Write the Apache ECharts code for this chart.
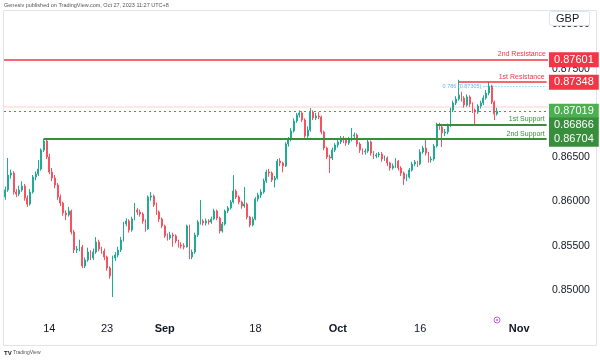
<!DOCTYPE html>
<html><head><meta charset="utf-8">
<script src="https://cdn.jsdelivr.net/npm/echarts@6/dist/echarts.min.js"></script>
<style>html,body{margin:0;padding:0;background:#fff}#c{width:600px;height:360px}</style>
</head><body><div id="c"></div>
<script>
// ---- data ----
const tradingDays = ['Aug 7','Aug 8','Aug 9','Aug 10','Aug 11','Aug 14','Aug 15','Aug 16','Aug 17','Aug 18',
 'Aug 21','Aug 22','Aug 23','Aug 24','Aug 25','Aug 28','Aug 29','Aug 30','Aug 31','Sep 1',
 'Sep 4','Sep 5','Sep 6','Sep 7','Sep 8','Sep 11','Sep 12','Sep 13','Sep 14','Sep 15',
 'Sep 18','Sep 19','Sep 20','Sep 21','Sep 22','Sep 25','Sep 26','Sep 27','Sep 28','Sep 29',
 'Oct 2','Oct 3','Oct 4','Oct 5','Oct 6','Oct 9','Oct 10','Oct 11','Oct 12','Oct 13',
 'Oct 16','Oct 17','Oct 18','Oct 19','Oct 20','Oct 23','Oct 24','Oct 25','Oct 26','Oct 27',
 'Oct 30','Oct 31','Nov 1','Nov 2','Nov 3','Nov 6'];
const sessions = ['00:00','08:00','16:00'];
const tickLabels = {'Aug 14':'14','Aug 23':'23','Sep 1':'Sep','Sep 18':'18','Oct 2':'Oct','Oct 16':'16','Nov 1':'Nov'};
const monthLabels = ['Sep','Oct','Nov'];

// candles: [open, close, low, high]  (EUR/GBP, 8h bars)
const candles = [
[0.86052,0.86131,0.86020,0.86170],[0.86131,0.86300,0.86110,0.86492],[0.86300,0.86323,0.86260,0.86360],
[0.86323,0.86108,0.86080,0.86345],[0.86108,0.86086,0.86050,0.86140],[0.86086,0.86131,0.86060,0.86180],
[0.86131,0.86176,0.86110,0.86230],[0.86176,0.86041,0.86010,0.86200],[0.86041,0.85973,0.85940,0.86070],
[0.85973,0.86108,0.85955,0.86140],[0.86108,0.86278,0.86090,0.86300],[0.86278,0.86311,0.86240,0.86340],
[0.86311,0.86368,0.86290,0.86470],[0.86368,0.86582,0.86350,0.86600],[0.86582,0.86684,0.86560,0.86712],
[0.86684,0.86503,0.86480,0.86700],[0.86503,0.86334,0.86310,0.86540],[0.86334,0.86266,0.86230,0.86380],
[0.86266,0.86187,0.86150,0.86300],[0.86187,0.86052,0.86020,0.86210],[0.86052,0.85984,0.85950,0.86080],
[0.85984,0.85871,0.85840,0.86000],[0.85871,0.85849,0.85790,0.85900],[0.85849,0.85894,0.85830,0.85940],
[0.85894,0.85657,0.85630,0.85910],[0.85657,0.85454,0.85420,0.85680],[0.85454,0.85465,0.85420,0.85500],
[0.85465,0.85488,0.85440,0.85570],[0.85488,0.85273,0.85250,0.85510],[0.85273,0.85341,0.85250,0.85370],
[0.85341,0.85431,0.85320,0.85480],[0.85431,0.85363,0.85340,0.85450],[0.85363,0.85431,0.85340,0.85470],
[0.85431,0.85544,0.85410,0.85600],[0.85544,0.85465,0.85440,0.85570],[0.85465,0.85442,0.85410,0.85490],
[0.85442,0.85375,0.85340,0.85470],[0.85375,0.85251,0.85220,0.85390],[0.85251,0.85160,0.85130,0.85270],
[0.85160,0.85363,0.84923,0.85390],[0.85363,0.85397,0.85330,0.85430],[0.85397,0.85454,0.85370,0.85490],
[0.85454,0.85567,0.85430,0.85600],[0.85567,0.85747,0.85550,0.85770],[0.85747,0.85781,0.85720,0.85810],
[0.85781,0.85679,0.85650,0.85800],[0.85679,0.85804,0.85660,0.85830],[0.85804,0.85905,0.85790,0.85984],
[0.85905,0.85883,0.85850,0.85930],[0.85883,0.85860,0.85830,0.85910],[0.85860,0.85781,0.85750,0.85880],
[0.85781,0.85691,0.85660,0.85800],[0.85691,0.86052,0.85680,0.86070],[0.86052,0.86063,0.86010,0.86108],
[0.86063,0.85962,0.85940,0.86080],[0.85962,0.85883,0.85850,0.85990],[0.85883,0.85804,0.85770,0.85900],
[0.85804,0.85725,0.85700,0.85820],[0.85725,0.85612,0.85590,0.85740],[0.85612,0.85589,0.85560,0.85640],
[0.85589,0.85623,0.85570,0.85660],[0.85623,0.85612,0.85490,0.85650],[0.85612,0.85555,0.85530,0.85630],
[0.85555,0.85510,0.85480,0.85570],[0.85510,0.85499,0.85470,0.85540],[0.85499,0.85488,0.85460,0.85530],
[0.85488,0.85725,0.85480,0.85740],[0.85725,0.85375,0.85350,0.85740],[0.85375,0.85431,0.85350,0.85460],
[0.85431,0.85623,0.85410,0.85650],[0.85623,0.85770,0.85600,0.85790],[0.85770,0.85781,0.85740,0.86018],
[0.85781,0.85758,0.85730,0.85800],[0.85758,0.85781,0.85730,0.85810],[0.85781,0.85770,0.85740,0.85800],
[0.85770,0.85804,0.85750,0.85830],[0.85804,0.85894,0.85790,0.85920],[0.85894,0.85815,0.85790,0.85910],
[0.85815,0.85668,0.85640,0.85830],[0.85668,0.85747,0.85650,0.85770],[0.85747,0.85894,0.85730,0.85910],
[0.85894,0.85928,0.85870,0.85950],[0.85928,0.85995,0.85910,0.86020],[0.85995,0.86120,0.85980,0.86300],
[0.86120,0.86052,0.86030,0.86140],[0.86052,0.85995,0.85970,0.86070],[0.85995,0.85950,0.85920,0.86010],
[0.85950,0.85973,0.85930,0.86165],[0.85973,0.85826,0.85800,0.85990],[0.85826,0.85736,0.85710,0.85840],
[0.85736,0.85804,0.85720,0.85830],[0.85804,0.86029,0.85790,0.86050],[0.86029,0.86074,0.86000,0.86100],
[0.86074,0.86108,0.86040,0.86140],[0.86108,0.86232,0.86090,0.86260],[0.86232,0.86334,0.86210,0.86360],
[0.86334,0.86323,0.86280,0.86370],[0.86323,0.86244,0.86220,0.86340],[0.86244,0.86266,0.86160,0.86290],
[0.86266,0.86458,0.86250,0.86480],[0.86458,0.86436,0.86400,0.86490],[0.86436,0.86402,0.86330,0.86450],
[0.86402,0.86650,0.86390,0.86670],[0.86650,0.86707,0.86620,0.86730],[0.86707,0.86797,0.86680,0.86830],
[0.86797,0.86910,0.86780,0.86940],[0.86910,0.86977,0.86890,0.87000],[0.86977,0.87000,0.86950,0.87030],
[0.87000,0.86921,0.86900,0.87020],[0.86921,0.86740,0.86720,0.86940],[0.86740,0.86808,0.86720,0.86850],
[0.86808,0.87011,0.86790,0.87056],[0.87011,0.86944,0.86920,0.87030],[0.86944,0.86966,0.86920,0.87000],
[0.86966,0.86955,0.86930,0.87010],[0.86955,0.86786,0.86760,0.86970],[0.86786,0.86605,0.86580,0.86800],
[0.86605,0.86503,0.86480,0.86620],[0.86503,0.86492,0.86323,0.86530],[0.86492,0.86582,0.86470,0.86610],
[0.86582,0.86639,0.86560,0.86660],[0.86639,0.86673,0.86610,0.86700],[0.86673,0.86718,0.86650,0.86740],
[0.86718,0.86695,0.86660,0.86740],[0.86695,0.86661,0.86630,0.86720],[0.86661,0.86707,0.86640,0.86730],
[0.86707,0.86740,0.86680,0.86831],[0.86740,0.86752,0.86710,0.86780],[0.86752,0.86650,0.86620,0.86770],
[0.86650,0.86582,0.86550,0.86670],[0.86582,0.86560,0.86530,0.86600],[0.86560,0.86571,0.86530,0.86600],
[0.86571,0.86673,0.86550,0.86700],[0.86673,0.86549,0.86520,0.86690],[0.86549,0.86515,0.86480,0.86570],
[0.86515,0.86526,0.86490,0.86550],[0.86526,0.86537,0.86500,0.86560],[0.86537,0.86481,0.86450,0.86560],
[0.86481,0.86492,0.86460,0.86520],[0.86492,0.86436,0.86400,0.86510],[0.86436,0.86379,0.86350,0.86450],
[0.86379,0.86402,0.86360,0.86430],[0.86402,0.86458,0.86380,0.86490],[0.86458,0.86379,0.86350,0.86470],
[0.86379,0.86323,0.86290,0.86400],[0.86323,0.86255,0.86187,0.86340],[0.86255,0.86278,0.86230,0.86310],
[0.86278,0.86357,0.86260,0.86380],[0.86357,0.86424,0.86340,0.86450],[0.86424,0.86447,0.86400,0.86470],
[0.86447,0.86424,0.86390,0.86460],[0.86424,0.86560,0.86410,0.86590],[0.86560,0.86605,0.86540,0.86630],
[0.86605,0.86549,0.86520,0.86695],[0.86549,0.86470,0.86440,0.86560],[0.86470,0.86481,0.86440,0.86510],
[0.86481,0.86628,0.86460,0.86650],[0.86628,0.86876,0.86610,0.86890],[0.86876,0.86842,0.86810,0.86890],
[0.86842,0.86774,0.86616,0.86860],[0.86774,0.86786,0.86740,0.86820],[0.86786,0.86853,0.86760,0.86880],
[0.86853,0.87034,0.86840,0.87060],[0.87034,0.87113,0.87010,0.87140],[0.87113,0.87158,0.87090,0.87190],
[0.87158,0.87203,0.87140,0.87375],[0.87203,0.87169,0.87130,0.87240],[0.87169,0.87090,0.87060,0.87190],
[0.87090,0.87181,0.87070,0.87210],[0.87181,0.87102,0.87070,0.87200],[0.87102,0.87034,0.87000,0.87120],
[0.87034,0.87011,0.86860,0.87050],[0.87011,0.87079,0.86990,0.87100],[0.87079,0.87113,0.87050,0.87140],
[0.87113,0.87169,0.87090,0.87200],[0.87169,0.87226,0.87150,0.87260],[0.87226,0.87305,0.87200,0.87352],
[0.87305,0.87124,0.87100,0.87320],[0.87124,0.86989,0.86921,0.87140],[0.86989,0.87019,0.86970,0.87060]
];

const resistanceNames = ['1st Resistance','2nd Resistance'];
const resistanceLevels = [0.87348, 0.87601];
const supportNames = ['1st Support','2nd Support'];
const supportLevels = [0.86866, 0.86704];
const lastPrice = 0.87019;
const fibText = '0.786 (0.87305)';
const fibLevel = 0.87305;
const prevLevel = 0.87068;
// candle index where each drawn line starts
const res1StartIdx = 165, sup1StartIdx = 157, sup2StartIdx = 14, fibStartIdx = 174;

// ---- chart ----
const categories = [];
tradingDays.forEach(d => sessions.forEach(s => categories.push(d + ' ' + s)));
const lastCat = categories[categories.length - 1];
const dayOf = v => v.slice(0, v.lastIndexOf(' '));

const RED = '#f23645', DGREEN = '#388e3c', LGREEN = '#4caf50', BLUE = '#64b5f6';
const UP = '#22ab94', DOWN = '#f7525f';
const FONT = 'Liberation Sans, Arial, sans-serif';

function boxLabel(color, v) {
  return {show: true, position: 'end', distance: 1, formatter: v.toFixed(5),
    color: '#fff', backgroundColor: color, padding: [2, 5, 1, 5], fontSize: 11,
    lineHeight: 12, fontFamily: FONT};
}
function textLabel(color, t) {
  return {show: true, position: 'insideEndTop', distance: 2, formatter: t,
    color: color, fontSize: 7, fontFamily: FONT};
}
const hidden = {color: 'rgba(0,0,0,0)', width: 1, type: 'solid'};

const chart = echarts.init(document.getElementById('c'), null, {renderer: 'canvas'});
chart.setOption({
  animation: false,
  backgroundColor: '#fff',
  grid: {left: 4, right: 52, top: 10, bottom: 42, containLabel: false},
  xAxis: {
    type: 'category', data: categories, boundaryGap: true,
    axisLine: {show: false}, axisTick: {show: false}, splitLine: {show: false},
    axisLabel: {
      margin: 5, fontSize: 11, color: '#131722', fontFamily: FONT, hideOverlap: false,
      interval: (i, v) => v.endsWith(sessions[1]) && tickLabels[dayOf(v)] !== undefined,
      formatter: v => { const t = tickLabels[dayOf(v)]; return monthLabels.includes(t) ? '{b|' + t + '}' : t; },
      rich: {b: {fontWeight: 'bold', fontSize: 11, color: '#131722', fontFamily: FONT}}
    }
  },
  yAxis: {
    type: 'value', position: 'right', min: 0.84686, max: 0.88163, splitNumber: 7,
    axisLine: {show: false}, axisTick: {show: false}, splitLine: {show: false},
    axisLabel: {margin: 4, fontSize: 10.5, color: '#131722', fontFamily: FONT,
      showMinLabel: false, showMaxLabel: false, formatter: v => v.toFixed(5)}
  },
  series: [{
    type: 'candlestick', data: candles,
    itemStyle: {color: UP, color0: DOWN, borderColor: UP, borderColor0: DOWN, borderWidth: 1},
    markLine: {
      silent: true, symbol: ['none', 'none'], animation: false, precision: 5,
      data: [
        {yAxis: prevLevel, lineStyle: {color: 'rgba(242,54,69,0.12)', width: 2, type: 'solid'}, label: {show: false}},
        {yAxis: resistanceLevels[1], lineStyle: {color: RED, width: 1.5, type: 'solid'}, label: boxLabel(RED, resistanceLevels[1])},
        {yAxis: resistanceLevels[1], lineStyle: hidden, label: textLabel(RED, resistanceNames[1])},
        {yAxis: lastPrice, lineStyle: {color: '#43a047', width: 1, type: [2, 3]}, label: boxLabel(LGREEN, lastPrice)},
        {yAxis: resistanceLevels[0], lineStyle: hidden, label: boxLabel(RED, resistanceLevels[0])},
        {yAxis: supportLevels[0], lineStyle: hidden, label: boxLabel(DGREEN, supportLevels[0])},
        {yAxis: supportLevels[1], lineStyle: hidden, label: boxLabel(DGREEN, supportLevels[1])},
        [{coord: [categories[res1StartIdx], resistanceLevels[0]], lineStyle: {color: RED, width: 1.5, type: 'solid'}, label: textLabel(RED, resistanceNames[0])},
         {coord: [lastCat, resistanceLevels[0]]}],
        [{coord: [categories[sup1StartIdx], supportLevels[0]], lineStyle: {color: DGREEN, width: 1.8, type: 'solid'}, label: textLabel(DGREEN, supportNames[0])},
         {coord: [lastCat, supportLevels[0]]}],
        [{coord: [categories[sup2StartIdx], supportLevels[1]], lineStyle: {color: DGREEN, width: 1.8, type: 'solid'}, label: textLabel(DGREEN, supportNames[1])},
         {coord: [lastCat, supportLevels[1]]}],
        [{coord: [categories[fibStartIdx], fibLevel], lineStyle: {color: BLUE, width: 1, type: [1, 2]},
          label: {show: true, position: 'start', distance: 2, formatter: fibText, color: BLUE, fontSize: 5.5, fontFamily: FONT}},
         {coord: [lastCat, fibLevel]}]
      ]
    }
  }],
  graphic: [
    {type: 'rect', z: 1, silent: true, shape: {x: 3.5, y: 10.5, width: 593, height: 335},
      style: {fill: 'none', stroke: '#e0e3eb', lineWidth: 1}},
    {type: 'text', left: 4, top: 2, silent: true,
      style: {text: 'Genesiv published on TradingView.com, Oct 27, 2023 11:27 UTC+8', fontSize: 5.5, fill: '#555', fontFamily: FONT}},
    {type: 'rect', z: 100, silent: true, shape: {x: 549.5, y: 11.5, width: 40, height: 14, r: 2},
      style: {fill: '#fff', stroke: '#e0e3eb', lineWidth: 1}},
    {type: 'text', z: 101, left: 556, top: 13, silent: true,
      style: {text: 'GBP', fontSize: 11, fill: '#131722', fontFamily: FONT}},
    {type: 'circle', z: 50, silent: true, shape: {cx: 497, cy: 320, r: 3},
      style: {fill: '#fff', stroke: '#d05ce3', lineWidth: 1}},
    {type: 'circle', z: 51, silent: true, shape: {cx: 497, cy: 320, r: 1},
      style: {fill: '#d05ce3'}},
    {type: 'text', left: 4, top: 350, silent: true,
      style: {text: 'TV', fontSize: 6, fontWeight: 'bold', fill: '#131722', fontFamily: FONT}},
    {type: 'text', left: 13, top: 350.5, silent: true,
      style: {text: 'TradingView', fontSize: 5, fill: '#555', fontFamily: FONT}}
  ]
});
</script></body></html>
